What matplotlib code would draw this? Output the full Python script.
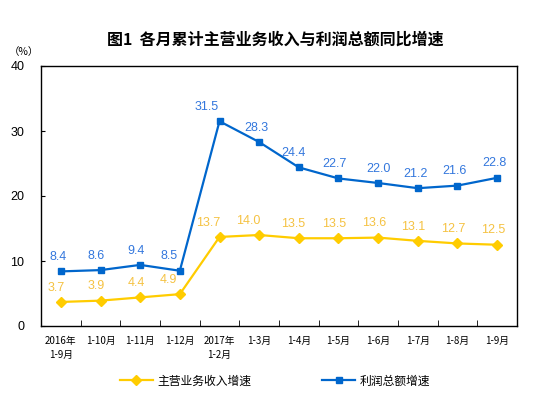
import matplotlib
matplotlib.use("Agg")
import matplotlib.pyplot as plt
from matplotlib.lines import Line2D

plt.rcParams['font.family'] = ['Noto Sans CJK SC', 'DejaVu Sans']

# Datos
meses = ["2016年\n1-9月", "1-10月", "1-11月", "1-12月", "2017年\n1-2月", "1-3月",
         "1-4月", "1-5月", "1-6月", "1-7月", "1-8月", "1-9月"]
ingresos = [3.7, 3.9, 4.4, 4.9, 13.7, 14.0, 13.5, 13.5, 13.6, 13.1, 12.7, 12.5]
beneficios = [8.4, 8.6, 9.4, 8.5, 31.5, 28.3, 24.4, 22.7, 22.0, 21.2, 21.6, 22.8]
y_ticks = [0, 10, 20, 30, 40]

amarillo = "#FFCC00"
azul = "#0066CC"

fig = plt.figure(figsize=(5.51, 3.97), dpi=100)
ax = fig.add_axes([41/551, 1-326/397, 476/551, 260/397])

x = list(range(len(meses)))
ax.plot(x, ingresos, color=amarillo, lw=1.6, marker="D", ms=5.5, zorder=3)
ax.plot(x, beneficios, color=azul, lw=1.6, marker="s", ms=4, zorder=3)

# Etiquetas de valores (algunas corridas a la izquierda como en el original)
desp_azul = [-2, -3, -3, -8, -9, -2, -4, -3, 0, -2, -2, -2]
desp_amar = [-3, -3, -3, -8, -8, -8, -4, -3, -3, -3, -3, -3]
for i in x:
    ax.annotate(f"{beneficios[i]:.1f}", (i, beneficios[i]), xytext=(desp_azul[i], 6),
                textcoords="offset points", color="#3377DD", ha="center", va="bottom",
                fontsize=9, family="Liberation Sans")
    ax.annotate(f"{ingresos[i]:.1f}", (i, ingresos[i]), xytext=(desp_amar[i], 6),
                textcoords="offset points", color="#F5C242", ha="center", va="bottom",
                fontsize=9, family="Liberation Sans")

ax.set_xlim(-0.5, 11.5)
ax.set_ylim(0, 40)
ax.set_yticks(y_ticks)
ax.set_yticklabels([str(v) for v in y_ticks], family="Liberation Sans", fontsize=9)
ax.tick_params(axis="y", direction="in", length=3, pad=12)
ax.set_xticks(x)
ax.set_xticklabels(meses, fontsize=7, linespacing=1.5)
ax.tick_params(axis="x", length=0, pad=7)
ax.set_xticks([i + 0.5 for i in x[:-1]], minor=True)
ax.tick_params(axis="x", which="minor", direction="in", length=4)
for s in ax.spines.values():
    s.set_linewidth(1)
    s.set_color("black")

fig.text(275/551, 1-40/397, "图1  各月累计主营业务收入与利润总额同比增速", ha="center", va="center",
         fontsize=11.5, fontweight="bold")
fig.text(24/551, 1-52/397, "（%）", ha="center", va="center", fontsize=7.5)

handles = [Line2D([], [], color=amarillo, lw=1.6, marker="D", ms=5.5),
           Line2D([], [], color=azul, lw=1.6, marker="s", ms=4)]
fig.legend(handles, ["主营业务收入增速", "利润总额增速"], loc="center",
           bbox_to_anchor=(275/551, 1-381/397), ncol=2, frameon=False,
           fontsize=8.5, handlelength=2.8, columnspacing=6, handletextpad=0.4)

fig.savefig("out.png", dpi=100)
